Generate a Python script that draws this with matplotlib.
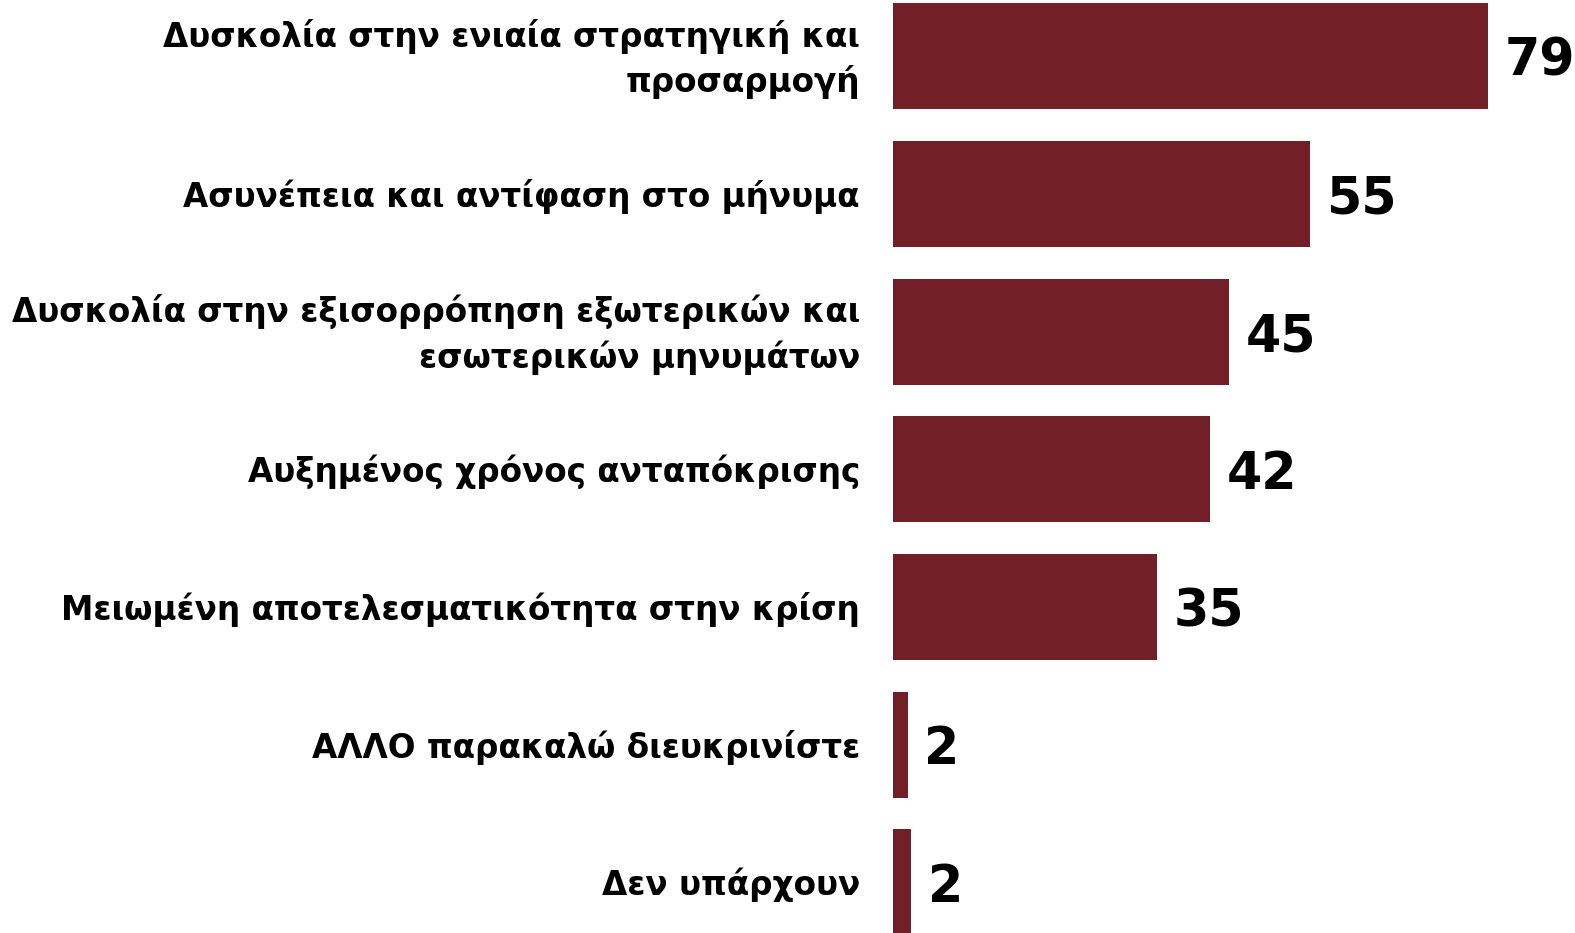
import matplotlib
matplotlib.use("Agg")
import matplotlib.pyplot as plt

categories = [
    "Δυσκολία στην ενιαία στρατηγική και\nπροσαρμογή",
    "Ασυνέπεια και αντίφαση στο μήνυμα",
    "Δυσκολία στην εξισορρόπηση εξωτερικών και\nεσωτερικών μηνυμάτων",
    "Αυξημένος χρόνος ανταπόκρισης",
    "Μειωμένη αποτελεσματικότητα στην κρίση",
    "ΑΛΛΟ παρακαλώ διευκρινίστε",
    "Δεν υπάρχουν",
]
values = [79.0, 55.3, 44.6, 42.1, 35.0, 1.9, 2.4]
value_labels = ["79", "55", "45", "42", "35", "2", "2"]

W, H = 1575, 933
fig = plt.figure(figsize=(W / 100, H / 100), dpi=100)
left = 893.3 / W
ax = fig.add_axes([left, 0, 1 - left, 1])

ypos = list(range(len(categories)))
ax.barh(ypos, values, height=0.77, color="#721F27", left=0)
ax.set_xlim(0, 681.7 / 7.53)
ax.set_ylim(6.367, -0.408)
ax.axis("off")

for y, v, lab in zip(ypos, values, value_labels):
    ax.annotate(lab, xy=(v, y), xytext=(12, -4), textcoords="offset points",
                ha="left", va="center", fontsize=36.5, fontweight="bold",
                family="DejaVu Sans", color="black")

for y, cat in zip(ypos, categories):
    ax.annotate(cat, xy=(0, y), xytext=(-24, -2), textcoords="offset points",
                ha="right", va="center", fontsize=23.5, fontweight="bold",
                family="DejaVu Sans", color="black", linespacing=1.4,
                multialignment="right", annotation_clip=False)

fig.savefig("out.png", dpi=100)
